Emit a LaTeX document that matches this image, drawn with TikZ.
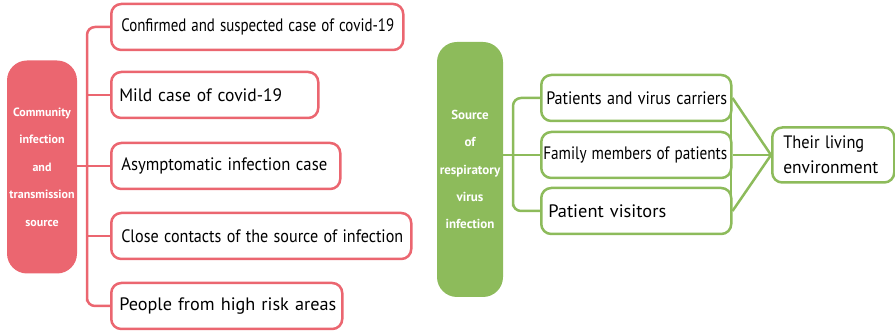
\documentclass[tikz,border=0pt]{standalone}
\usepackage{fontspec}
\setmainfont{PT Sans}
\definecolor{redc}{HTML}{EB6670}
\definecolor{greenc}{HTML}{8DBB5B}
\newcommand{\fitw}[2]{\resizebox{#1}{\height}{#2}}
\begin{document}
\begin{tikzpicture}[x=1pt,y=-1pt,
  redbox/.style={draw=redc, line width=2.5pt, rounded corners=10pt, fill=white, inner xsep=0pt, inner ysep=0pt, minimum height=46pt, align=left, anchor=west, font=\fontsize{18}{20}\selectfont},
  greenbox/.style={draw=greenc, line width=2.5pt, rounded corners=10pt, fill=white, inner xsep=0pt, inner ysep=0pt, minimum height=46pt, align=left, anchor=west, font=\fontsize{18}{20}\selectfont},
  bigbox/.style={rounded corners=20pt, text=white, align=center, inner sep=0pt},
  redline/.style={draw=redc, line width=2.5pt},
  greenline/.style={draw=greenc, line width=2.5pt},
]
\useasboundingbox (0,0) rectangle (895,331);
% left diagram
\node[bigbox, fill=redc, minimum width=70pt, minimum height=213pt, font=\bfseries\fontsize{12}{27.5}\selectfont] (rbig) at (42,167) {Community\\infection\\and\\transmission\\source};
\node[redbox, text width=292pt] (b1) at (110,27) {\hspace*{10pt}\fitw{273pt}{Confirmed and suspected case of covid-19}};
\node[redbox, text width=207pt] (b2) at (110,95) {\hspace*{8pt}\fitw{163pt}{Mild case of covid-19}};
\node[redbox, text width=229pt] (b3) at (110,166) {\hspace*{10pt}\fitw{206pt}{Asymptomatic infection case}};
\node[redbox, text width=300pt] (b4) at (110,236) {\hspace*{10pt}\fitw{282pt}{Close contacts of the source of infection}};
\node[redbox, text width=231pt] (b5) at (110,306) {\hspace*{8pt}\fitw{217pt}{People from high risk areas}};
\coordinate (rb) at (87,306);
\draw[redline, rounded corners=8pt] (b1.west) -| (rb) |- (b5.west);
\draw[redline] (b2.west) -- (b2.west -| rb);
\draw[redline] (b3.west) -- (b3.west -| rb);
\draw[redline] (b4.west) -- (b4.west -| rb);
\draw[redline] (rbig.east |- b3.west) -- (b3.west -| rb);
% right diagram
\node[bigbox, fill=greenc, minimum width=66pt, minimum height=255pt, font=\bfseries\fontsize{13}{27.3}\selectfont] (gbig) at (470,169.5) {Source\\of\\respiratory\\virus\\infection};
\node[greenbox, text width=190pt] (g1) at (540,98) {\hspace*{5pt}\fitw{181pt}{Patients and virus carriers}};
\node[greenbox, text width=190pt] (g2) at (540,155) {\hspace*{2pt}\fitw{184pt}{Family members of patients}};
\node[greenbox, text width=190pt] (g3) at (540,211) {\hspace*{7pt}\fitw{118pt}{Patient visitors}};
\node[greenbox, text width=122pt, minimum height=55pt, font=\fontsize{18}{25}\selectfont] (env) at (771,155) {\hspace*{11pt}\fitw{81pt}{Their living}\\\hspace*{11pt}\fitw{95pt}{environment}};
\coordinate (gb) at (513,211);
\draw[greenline, rounded corners=8pt] (g1.west) -| (gb) |- (g3.west);
\draw[greenline] (gbig.east |- g2.west) -- (g2.west);
\coordinate (gt) at (731,86);
\coordinate (gu) at (731,224);
\draw[greenline] (gt) -- (gu);
\draw[greenline] (g1.east) -- (env.west);
\draw[greenline] (g2.east) -- (env.west);
\draw[greenline] (g3.east) -- (env.west);
\end{tikzpicture}
\end{document}
